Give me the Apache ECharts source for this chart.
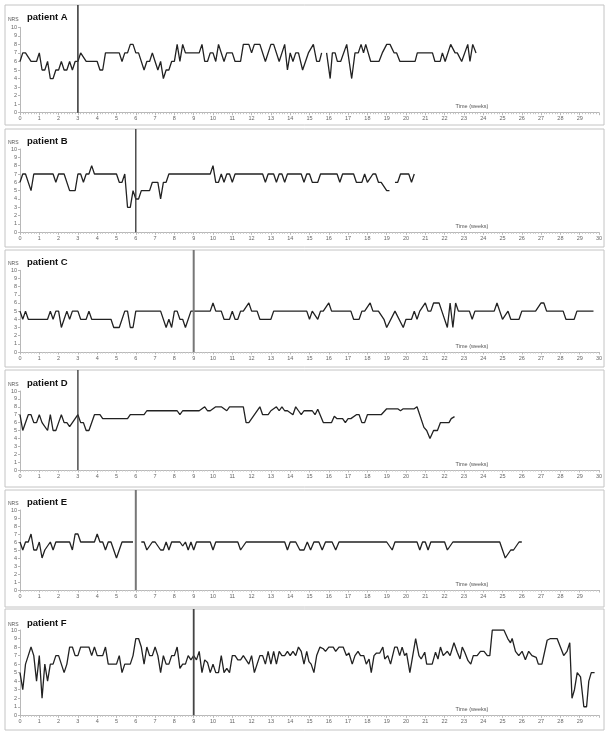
<!DOCTYPE html>
<html><head><meta charset="utf-8">
<script src="https://cdn.jsdelivr.net/npm/echarts@6/dist/echarts.min.js"></script>
<style>html,body{margin:0;padding:0;background:#fff}#c{width:610px;height:735px}</style>
</head><body><div id="c"></div><script>
// ---- data (x = day since start, y = NRS); each patient = list of line segments ----
const patientNames = ['patient A','patient B','patient C','patient D','patient E','patient F'];
const markerWeeks = [3, 6, 9, 3, 6, 9];
const lastWeekLabel = [29, 30, 30, 30, 29, 29];

const patientA = [
 [[0,6],[1,7],[2,7],[4,6],[6,6],[7,7],[8,5],[9,5],[10,6],[11,4],[12,4],[13,5],[14,5],[15,6],[16,5],[17,5],[18,6],[19,5],[20,6],[21,6],[22,7],[24,6],[28,6],[29,5],[30,5],[31,7],[36,7],[37,6],[38,7],[39,7],[40,8],[41,8],[42,7],[43,7],[45,5],[46,6],[47,6],[48,7],[49,6],[50,5],[51,6],[52,4],[53,5],[54,5],[55,6],[56,6],[57,8],[58,6],[59,8],[60,7],[65,7],[66,8],[67,6],[68,6],[69,7],[70,7],[71,6],[72,8],[74,6],[75,7],[77,7],[78,6],[80,6],[81,8],[83,8],[84,7],[85,8],[87,8],[89,6],[91,8],[92,8],[94,6],[96,8],[97,5],[98,7],[99,6],[100,7],[101,7],[102.5,5],[104.6,7],[106.4,8],[107.6,6],[108.6,6],[109.4,7]],
 [[111.2,7],[112.5,4],[113.3,7],[114.3,7],[115.1,6],[116.3,6],[118.5,8],[120.3,4],[121.5,7],[122.7,7],[123.7,8],[124.6,7],[125.4,8],[127.2,6],[130.2,6],[131.4,7],[133,8],[134.2,8],[135.7,7],[136.6,7],[137.8,6],[143.3,6],[144.1,7],[149.6,7],[150.5,6],[152.4,6],[153.2,7],[154.2,6],[156.2,8],[157.8,7],[158.6,7],[160.2,6],[160.8,6],[162.4,8],[163.2,6],[164.2,8],[165.4,7]]
];
const patientB = [
 [[0,6],[1,7],[2,7],[4,5],[5,7],[12,7],[13,6],[14,7],[16,7],[18,5],[20,5],[21,7],[22,7],[23,6],[24,7],[25,7],[26,8],[27,7],[35,7],[36,6],[37,6],[38,7],[39,3],[40,3],[41,5],[42,4],[43,4],[44,5],[47,5],[48,6],[50,6],[51,4],[52,6],[53,6],[54,7],[69,7],[70,8],[71,6],[72,6],[73,7],[74,6],[75,7],[76,7],[77,6],[78,7],[88,7],[89,6],[90,7],[92,7],[93,6],[94,7],[95,7],[96,6],[97,7],[102,7],[103,6],[104,7],[105,7],[106,6],[108,6],[109,7],[115,7],[116,6],[117,7],[121,7],[122,6],[124,6],[125,7],[126,6],[128,7],[129,7],[130,6],[131,6],[133,5],[134,5]],
 [[136,6],[137,6],[138,7],[141,7],[142,6],[143,7]]
];
const patientC = [
 [[0,5],[1,4],[2,5],[3,4],[10,4],[11,5],[12,4],[13,5],[14,5],[15,3],[16,4],[17,5],[18,4],[19,5],[21,5],[22,4],[24,4],[25,5],[26,4],[33,4],[34,3],[36,3],[38,5],[39,5],[40,3],[41,3],[42,5],[51,5],[53,3],[54,4],[55,3],[56,5],[57,5],[58,4],[59,4],[60,3],[62,5],[69,5],[70,6],[71,5],[73,5],[74,4],[76,4],[77,5],[78,4],[79,4],[80,5],[81,5],[83,6],[84,5],[86,5],[87,4],[91,4],[92,5],[104,5],[105,4],[106,5],[108,4],[109,5],[110,5],[112,6],[113,5],[120,5],[121,4],[123,4],[124,5],[125,5],[127,6],[128,5],[130,5],[132,4],[133,3],[136,5],[139,3],[140,4],[142,4],[143,5],[144,4],[145,5],[147,6],[148,5],[149,5],[150,6],[152,6],[153,5],[155,3],[156,6],[157,3],[158,6],[159,5],[163,5],[164,4],[165,5],[172,5],[173,6],[174,5],[175,4],[177,5],[178,4],[181,4],[182,5],[187,5],[189,6],[190,6],[191,5],[197,5],[198,4],[201,4],[202,5],[208,5]]
];
const patientD = [
 [[0,7],[1,5],[3,7],[4,7],[5,6],[6,6],[7,7],[8,6],[10,5],[11,7],[12,5],[13,5],[14,6],[15,7],[16,6],[17,6],[18,5.5],[19,6],[21,7],[22,6],[23,6],[24,5],[25,5],[27,7],[29,7],[30,6.5],[39,6.5],[40,7],[45,7],[46,7.5],[57,7.5],[58,7],[59,7.5],[65,7.5],[67,8],[68,7.5],[69,7.5],[71,8],[73,8],[75,7.5],[76,8],[81,8],[82,6],[83,6],[87,8],[88,7],[90,7],[91,7.5],[93,8],[94,7.5],[95,8],[96,7.5],[97,7.5],[99,7],[100,8],[101,7.5],[102,7],[103,7.5],[106,7.5],[107,7],[108,7.7],[108.5,7.7],[110,6],[113,6],[114,6.8],[115,6.5],[117,6.5],[118,6],[119,6.5],[120,6.5],[122,7],[123,7],[124,6],[125,6],[126,7],[131,7],[133,7.75],[137,7.75],[138,7.5],[139,7.75],[143,7.75],[144,8],[146.5,5.4],[147.5,5],[148.7,4],[150,5],[151.4,5],[152.5,6],[155.6,6],[156.4,6.5],[157.6,6.75]]
];
const patientE = [
 [[0,6],[1,5],[2,6],[3,6],[4,7],[5,5],[6,5],[7,6],[8,4],[9,5],[11,6],[12,5],[13,6],[18,6],[19,5],[20,7],[21,7],[22,6],[27,6],[28,7],[29,6],[30,6],[31,5],[32,6],[33,6],[34,5],[35,4],[37,6],[41,6]],
 [[44,6],[45,6],[46,5],[48,6],[49,6],[51,5],[52,5],[53,6],[54,5],[55,6],[58,6],[59,5.5],[60,6],[61,5],[62,6],[63,5],[64,6],[69,6],[70,5],[71,6],[79,6],[80,5],[82,6],[96,6],[97,5],[98,6],[100,6],[101.5,5],[103,5],[104.2,6],[105.4,5],[106.6,6],[108.4,6],[109.6,5],[110.8,6],[113.2,6],[114.5,5],[115.7,6],[133,6],[135,5],[136,6],[144,6],[145,5],[146,6],[147,6],[148,5],[149,6],[154,6],[155,5],[157,6],[174,6],[175,5],[176,4],[178,5],[179,5],[181,6],[182,6]]
];
const patientF = [
 [[0,5],[1,3],[2,6],[3,7],[4,8],[5,7],[6,4],[7,7],[8,2],[9,6],[10,4],[11,6],[12,6],[13,7],[14,7],[15,6],[16,5],[17,6],[18,8],[19,8],[20,7],[21,7],[22,8],[25,8],[26,7],[27,8],[28,7],[30,7],[31,8],[32,6],[35,6],[36,7],[37,5],[38,6],[40,6],[41,7],[42,9],[43,9],[44,8],[45,6],[46,8],[47,7],[48,7],[49,8],[50,7],[51,5],[52,7],[53,6],[54,6],[55,7],[56,7],[57,8],[58,5.5],[59,6],[60,6],[61,7],[62,6.5],[63,7],[64,6.5],[65,7.5],[66,5],[67,6.5],[68,6.2],[69,5],[70,6],[71,5],[72,5],[73,7],[74,5],[75,5.5],[76,5],[77,7],[78,7],[79,6.5],[80,6.5],[81,7],[82,6.5],[83,6],[84,7],[85,5],[87,7],[88,7],[89,6],[90,7.5],[91,6],[92,7.5],[93,6],[94,7.5],[95,7],[96,7],[97,7.5],[98,7],[99,7.5],[100,7],[101,8],[102,7.5],[103,6],[104,7.5],[104.8,6.3],[105.6,6],[106.6,5],[107.6,7],[108.8,8],[110,7.8],[110.8,7.5],[112,8],[113.6,8],[114.5,7.5],[115.7,8],[117.2,8],[118.4,7],[119.3,7.3],[120.5,6],[121.5,7],[122.6,7.5],[123.5,7],[124.7,7],[125.6,6],[126.6,6.6],[127.4,5],[128.4,7],[129.3,7.3],[130.5,7.3],[131.6,8],[132.3,6.6],[133.4,7],[134.4,6],[135.9,8],[136.8,8],[137.7,7],[138.6,8],[139.5,7],[140.2,7.3],[141.4,5],[143.5,9],[144.7,7],[145.5,6.6],[146.8,7.4],[147.5,6],[149.5,6],[150.7,7.4],[151.6,6.6],[152.5,8],[153.5,7],[155,7.5],[156,7],[157.4,8.5],[158.6,7.4],[159.6,6.6],[160.4,8],[161.3,7.4],[162.5,6.4],[163.5,6],[164.4,7],[165.8,7],[167,7.5],[168.3,7.5],[169.5,7],[170.4,7],[171.3,10],[175.5,10],[176.9,9],[177.9,8.5],[178.5,9],[179.7,7.5],[180.9,7],[182.1,7.5],[183.3,6.5],[184.5,7.5],[185.7,7],[187.2,6.8],[188,6],[189.3,6],[191.2,8.8],[192.4,9],[194.8,9],[196,8],[197.2,7],[198.4,7.5],[199.4,8.5],[200.2,2],[201.1,3],[202.1,5],[203.3,4.5],[204.5,1],[205.5,1],[206.3,4],[207.2,5],[208.4,5]]
];
const patients = [patientA, patientB, patientC, patientD, patientE, patientF];

// ---- layout (pixels) ----
const layout = [
 {box:[5,125],   y10:27.3,  y0:112.7, titleY:17.5, mk:{c:'#333',w:1.5}},
 {box:[129,247], y10:149,   y0:232.3, titleY:141,  mk:{c:'#333',w:1.3}},
 {box:[250,367], y10:270.3, y0:352,   titleY:262,  mk:{c:'#777',w:2}},
 {box:[370,487], y10:391,   y0:470,   titleY:383,  mk:{c:'#333',w:1.3}},
 {box:[490,607], y10:510,   y0:590,   titleY:502,  mk:{c:'#777',w:2}},
 {box:[609,730], y10:630,   y0:715.3, titleY:623,  mk:{c:'#444',w:1.8}}
];
const GL = 20, GW = 579;

function withGaps(segs){
  const out = [];
  segs.forEach((s,i)=>{
    if(i>0){ out.push([(segs[i-1][segs[i-1].length-1][0]+s[0][0])/2, null]); }
    s.forEach(p=>out.push(p));
  });
  return out;
}

const grids=[], xAxes=[], yAxes=[], series=[], graphics=[];
const mGrids=[], mX=[], mY=[], mSeries=[];
const axisCol = '#b8b8b8', lblCol = '#666';
layout.forEach((L,i)=>{
  grids.push({left:GL, width:GW, top:L.y10, height:L.y0-L.y10});
  xAxes.push({type:'value', gridIndex:i, min:0, max:210, interval:7,
    axisLine:{lineStyle:{color:axisCol,width:1}},
    axisTick:{show:true,length:2.5,lineStyle:{color:axisCol}},
    minorTick:{show:true,splitNumber:7,length:1.5,lineStyle:{color:'#c4c4c4'}},
    splitLine:{show:false},
    axisLabel:{fontSize:5.5,color:lblCol,margin:3,fontFamily:'Liberation Sans',
      formatter:v=>{const w=Math.round(v/7);return w>lastWeekLabel[i]?'':String(w);}}});
  yAxes.push({type:'value', gridIndex:i, min:0, max:10, interval:1,
    axisLine:{show:true,lineStyle:{color:axisCol,width:1}},
    axisTick:{show:true,length:2,lineStyle:{color:axisCol}},
    splitLine:{show:false},
    axisLabel:{fontSize:5.5,color:lblCol,margin:3,fontFamily:'Liberation Sans'}});
  series.push({type:'line', xAxisIndex:i, yAxisIndex:i, data:withGaps(patients[i]),
    showSymbol:false, connectNulls:false, lineStyle:{color:'#222',width:1.3}, animation:false, z:3});
  // marker grid (extends to panel top)
  mGrids.push({left:GL, width:GW, top:L.box[0], height:L.y0-L.box[0]});
  mX.push({type:'value', gridIndex:6+i, min:0, max:210, show:false});
  mY.push({type:'value', gridIndex:6+i, min:0, max:1, show:false});
  const mx = markerWeeks[i]*7;
  mSeries.push({type:'line', xAxisIndex:6+i, yAxisIndex:6+i, data:[[mx,0],[mx,1]],
    showSymbol:false, lineStyle:{color:L.mk.c,width:L.mk.w}, animation:false, z:4});
  graphics.push({type:'rect', shape:{x:5,y:L.box[0],width:599,height:L.box[1]-L.box[0]},
    style:{fill:'none',stroke:'#c4c4c4',lineWidth:1}, silent:true});
  graphics.push({type:'text', x:27, y:L.titleY, style:{text:patientNames[i], font:'bold 9.5px "Liberation Sans", Arial', fill:'#111', textVerticalAlign:'middle'}});
  graphics.push({type:'text', x:8, y:L.titleY+2, style:{text:'NRS', font:'5px "Liberation Sans", Arial', fill:'#555', textVerticalAlign:'middle'}});
  graphics.push({type:'text', x:472, y:L.y0-6, style:{text:'Time (weeks)', font:'5.5px "Liberation Sans", Arial', fill:'#555', textAlign:'center', textVerticalAlign:'middle'}});
});

const chart = echarts.init(document.getElementById('c'), null, {renderer:'canvas'});
chart.setOption({animation:false, backgroundColor:'#fff',
  grid:grids.concat(mGrids), xAxis:xAxes.concat(mX), yAxis:yAxes.concat(mY),
  series:series.concat(mSeries), graphic:graphics});
</script></body></html>
